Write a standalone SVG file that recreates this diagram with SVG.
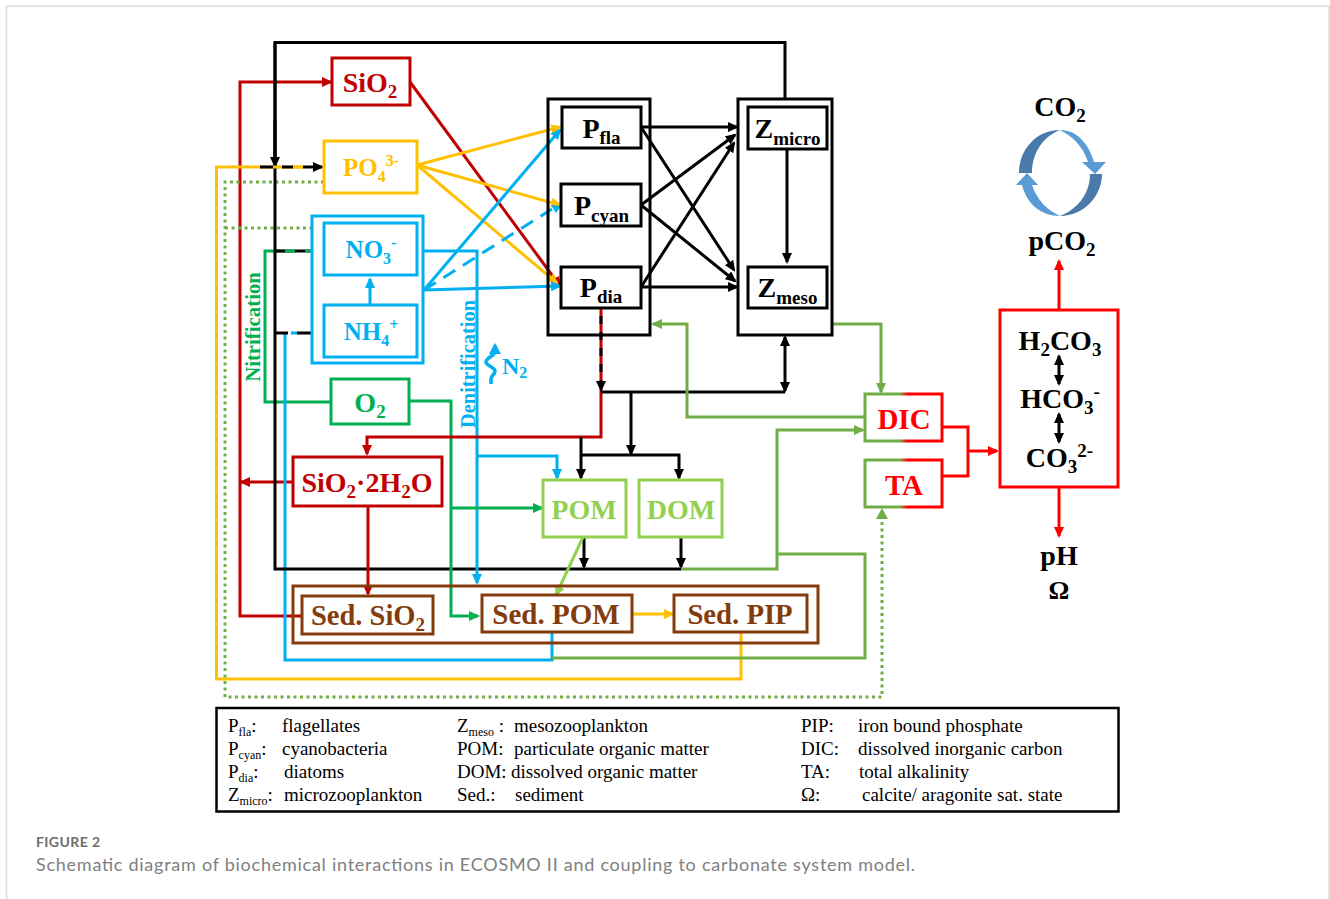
<svg xmlns="http://www.w3.org/2000/svg" width="1330" height="899" viewBox="0 0 1330 899">
<style>
text{font-family:"Liberation Serif","Times New Roman",serif}
.l{font-weight:bold;text-anchor:middle}
.b{fill:#fff;stroke-width:3}
.c{fill:none;stroke-width:3}
.k{stroke:#000}.r{stroke:#c00000}.y{stroke:#ffc000}.u{stroke:#00b0f0}.g{stroke:#00b050}.a{stroke:#70ad47}.lg{stroke:#92d050}.br{stroke:#843c0c}.d{stroke:#ff0000}
.leg{font-size:19px;fill:#000}
</style>
<defs>
<marker id="mk" markerUnits="userSpaceOnUse" markerWidth="12" markerHeight="10" refX="9" refY="5" orient="auto-start-reverse"><path d="M0 0L11 5L0 10Z" fill="#000"/></marker>
<marker id="mr" markerUnits="userSpaceOnUse" markerWidth="12" markerHeight="10" refX="9" refY="5" orient="auto-start-reverse"><path d="M0 0L11 5L0 10Z" fill="#c00000"/></marker>
<marker id="my" markerUnits="userSpaceOnUse" markerWidth="12" markerHeight="10" refX="9" refY="5" orient="auto-start-reverse"><path d="M0 0L11 5L0 10Z" fill="#ffc000"/></marker>
<marker id="mu" markerUnits="userSpaceOnUse" markerWidth="12" markerHeight="10" refX="9" refY="5" orient="auto-start-reverse"><path d="M0 0L11 5L0 10Z" fill="#00b0f0"/></marker>
<marker id="mg" markerUnits="userSpaceOnUse" markerWidth="12" markerHeight="10" refX="9" refY="5" orient="auto-start-reverse"><path d="M0 0L11 5L0 10Z" fill="#00b050"/></marker>
<marker id="ma" markerUnits="userSpaceOnUse" markerWidth="12" markerHeight="10" refX="9" refY="5" orient="auto-start-reverse"><path d="M0 0L11 5L0 10Z" fill="#70ad47"/></marker>
<marker id="ml" markerUnits="userSpaceOnUse" markerWidth="12" markerHeight="10" refX="9" refY="5" orient="auto-start-reverse"><path d="M0 0L11 5L0 10Z" fill="#92d050"/></marker>
<marker id="md" markerUnits="userSpaceOnUse" markerWidth="12" markerHeight="10" refX="9" refY="5" orient="auto-start-reverse"><path d="M0 0L11 5L0 10Z" fill="#ff0000"/></marker>
<linearGradient id="gr" x1="0" x2="1" y1="0" y2="0"><stop offset=".45" stop-color="#70ad47"/><stop offset=".55" stop-color="#ff0000"/></linearGradient>
</defs>
<rect width="1330" height="899" fill="#fff"/>
<path d="M6.500 899V6H1329V899" stroke="#dcdcdc" stroke-width="1.500" fill="none"/>

<g id="connectors">
<path class="c r" d="M302 616H240V82H331" marker-end="url(#mr)"/>
<path class="c r" d="M293 482H241" marker-end="url(#mr)"/>
<path class="c y" d="M303 167H216.500V679H741V632"/>
<path class="a" fill="none" stroke-width="3" stroke-dasharray="3 3.500" d="M324 182H225V697H882V517"/>
<path d="M882 508L876 519H888Z" fill="#70ad47"/>
<path class="a" fill="none" stroke-width="3" stroke-dasharray="3 3.500" d="M225 228H312"/>
<path class="c g" d="M331 402H265V251H285"/>
<path class="c u" d="M285 333V660H552V632"/>
<path class="c k" d="M275 160V42.500H785V98"/>
<path class="c k" d="M275 42.500V569H681"/>
<path class="c k" d="M275 120V166" marker-end="url(#mk)"/>
<path class="c k" d="M260 167H273M282 167H293"/>
<path class="c k" d="M303 167H322" marker-end="url(#mk)"/>
<path class="c y" d="M273 167H280M293 167H303"/>
<path class="c k" d="M275 251H322" marker-end="url(#mk)"/>
<path class="c g" d="M285 251H295M305 251H312"/>
<path class="c k" d="M275 333H288M297 333H322" marker-end="url(#mk)"/>
<path class="c u" d="M291 333H297"/>
<path class="c r" d="M410 82L560 286" marker-end="url(#mr)"/>
<path class="c y" d="M417 165L560 127" marker-end="url(#my)"/>
<path class="c y" d="M417 165L560 205" marker-end="url(#my)"/>
<path class="c y" d="M417 165L557 283" marker-end="url(#my)"/>
<path class="c u" d="M424 290L560 130" marker-end="url(#mu)"/>
<path class="c u" d="M424 290L560 286" marker-end="url(#mu)"/>
<path class="c u" stroke-dasharray="14 9" d="M424 290L552 209"/>
<path d="M551 205L561 206L556 213Z" fill="#00b0f0"/>
<path class="c u" d="M417 251H477V583" marker-end="url(#mu)"/>
<path class="c u" d="M477 456H557V478" marker-end="url(#mu)"/>
<path class="c u" style="stroke-width:3.500" d="M495 345V352C494 356 486 358 486 362C486 366 495 367 495 371C495 375 491 375 491 379V384"/>
<path d="M495 343L489 354H501Z" fill="#00b0f0"/>
<path class="c g" d="M409 401H451V616H478" marker-end="url(#mg)"/>
<path class="c g" d="M451 508H542" marker-end="url(#mg)"/>
<path class="c k" d="M641 127H737" marker-end="url(#mk)"/>
<path class="c k" d="M641 127L734 270" marker-end="url(#mk)"/>
<path class="c k" d="M641 205L735 135" marker-end="url(#mk)"/>
<path class="c k" d="M641 205L735 281" marker-end="url(#mk)"/>
<path class="c k" d="M641 287L734 143" marker-end="url(#mk)"/>
<path class="c k" d="M641 287H737" marker-end="url(#mk)"/>
<path class="c k" d="M787 149V262" marker-end="url(#mk)"/>
<path class="c r" d="M601 308V437H367V454" marker-end="url(#mr)"/>
<path class="c k" stroke-dasharray="8 8" d="M601 316V390" marker-end="url(#mk)"/>
<path class="c k" d="M601 392H785"/>
<path class="c k" d="M785 391V337" marker-start="url(#mk)" marker-end="url(#mk)"/>
<path class="c k" d="M631 392V454" marker-end="url(#mk)"/>
<path class="c k" d="M581 437V478" marker-end="url(#mk)"/>
<path class="c k" d="M581 455H679V478" marker-end="url(#mk)"/>
<path class="c k" d="M584 537V567" marker-end="url(#mk)"/>
<path class="c k" d="M681 537V567" marker-end="url(#mk)"/>
<path class="c r" d="M368 506V594" marker-end="url(#mr)"/>
<path class="c lg" d="M583 537L556 595" marker-end="url(#ml)"/>
<path class="c y" d="M632 614H673" marker-end="url(#my)"/>
<path class="c a" d="M681 569H777V430H863" marker-end="url(#ma)"/>
<path class="c a" d="M777 554H865V658H552"/>
<path class="c a" d="M832 324H881V392" marker-end="url(#ma)"/>
<path class="c a" d="M865 417H687V324H653" marker-end="url(#ma)"/>
<path class="c d" d="M942 427H968V476H942"/>
<path class="c d" d="M968 451H997" marker-end="url(#md)"/>
<path class="c d" d="M1059 310V261" marker-end="url(#md)"/>
<path class="c d" d="M1059 487V536" marker-end="url(#md)"/>
<path class="c k" d="M1059 356V384" marker-start="url(#mk)" marker-end="url(#mk)"/>
<path class="c k" d="M1059 414V442" marker-start="url(#mk)" marker-end="url(#mk)"/>
</g>

<g id="sio2"><rect class="b r" x="332" y="58" width="78" height="47"/><text class="l" x="370" y="92" font-size="28" fill="#c00000">SiO<tspan font-size="19" dy="6">2</tspan></text></g>
<g id="po4"><rect class="b y" x="324" y="141" width="93" height="52"/><text class="l" x="371" y="176" font-size="25" fill="#ffc000">PO<tspan font-size="16" dy="6">4</tspan><tspan font-size="16" dy="-16">3-</tspan></text></g>
<g id="nox"><rect class="b u" x="312" y="216" width="111" height="147"/></g>
<g id="no3"><rect class="b u" x="324" y="223" width="93" height="52"/><text class="l" x="371" y="258" font-size="25" fill="#00b0f0">NO<tspan font-size="16" dy="6">3</tspan><tspan font-size="16" dy="-16">-</tspan></text></g>
<g id="nh4"><rect class="b u" x="324" y="305" width="93" height="52"/><text class="l" x="371" y="340" font-size="25" fill="#00b0f0">NH<tspan font-size="16" dy="6">4</tspan><tspan font-size="16" dy="-16">+</tspan></text></g>
<path class="c u" d="M370 305V279" marker-end="url(#mu)"/>
<g id="o2"><rect class="b g" x="331" y="379" width="78" height="45"/><text class="l" x="370" y="412" font-size="28" fill="#00b050">O<tspan font-size="19" dy="6">2</tspan></text></g>
<g id="sio2h2o"><rect class="b r" x="293" y="457" width="149" height="49"/><text class="l" x="367" y="492" font-size="28" fill="#c00000">SiO<tspan font-size="19" dy="6">2</tspan><tspan dy="-6">·2H</tspan><tspan font-size="19" dy="6">2</tspan><tspan dy="-6">O</tspan></text></g>
<g id="p-group"><rect x="548" y="99" width="102" height="236" fill="none" stroke="#000" stroke-width="3"/></g>
<g id="pfla"><rect class="b k" x="562" y="107" width="79" height="41"/><text class="l" x="601.500" y="138" font-size="28">P<tspan font-size="19" dy="6">fla</tspan></text></g>
<g id="pcyan"><rect class="b k" x="561" y="184" width="80" height="42"/><text class="l" x="601.500" y="215" font-size="28">P<tspan font-size="19" dy="7">cyan</tspan></text></g>
<g id="pdia"><rect class="b k" x="561" y="267" width="80" height="41"/><text class="l" x="601" y="297" font-size="28">P<tspan font-size="19" dy="6">dia</tspan></text></g>
<g id="z-group"><rect x="738" y="99" width="94" height="236" fill="none" stroke="#000" stroke-width="3"/></g>
<g id="zmicro"><rect class="b k" x="748" y="107" width="79" height="42"/><text class="l" x="787.500" y="138" font-size="28">Z<tspan font-size="19" dy="7">micro</tspan></text></g>
<g id="zmeso"><rect class="b k" x="748" y="267" width="79" height="41"/><text class="l" x="787.500" y="297" font-size="28">Z<tspan font-size="19" dy="7">meso</tspan></text></g>
<g id="pom"><rect class="b lg" x="543" y="480" width="83" height="57"/><text class="l" x="584" y="519" font-size="28" fill="#92d050">POM</text></g>
<g id="dom"><rect class="b lg" x="639" y="480" width="83" height="57"/><text class="l" x="681" y="519" font-size="28" fill="#92d050">DOM</text></g>
<g id="sed"><rect x="293" y="586" width="525" height="57" fill="none" stroke="#843c0c" stroke-width="3"/></g>
<g id="sedsio2"><rect class="b br" x="302" y="596" width="131" height="38"/><text class="l" x="368" y="625" font-size="28.500" fill="#843c0c">Sed. SiO<tspan font-size="19" dy="6">2</tspan></text></g>
<g id="sedpom"><rect class="b br" x="482" y="595" width="150" height="37"/><text class="l" x="556" y="624" font-size="29" fill="#843c0c">Sed. POM</text></g>
<g id="sedpip"><rect class="b br" x="674" y="595" width="133" height="37"/><text class="l" x="740" y="624" font-size="28.700" fill="#843c0c">Sed. PIP</text></g>
<g id="dic"><rect class="b" stroke="url(#gr)" x="865" y="394" width="77" height="47"/><text class="l" x="904" y="429" font-size="29" fill="#ff0000">DIC</text></g>
<g id="ta"><rect class="b" stroke="url(#gr)" x="865" y="460" width="77" height="47"/><text class="l" x="904" y="495" font-size="29" fill="#ff0000">TA</text></g>
<g id="carb"><rect x="1000" y="310" width="118" height="177" fill="none" stroke="#ff0000" stroke-width="3"/>
<text class="l" x="1060" y="350" font-size="28">H<tspan font-size="19" dy="6">2</tspan><tspan dy="-6">CO</tspan><tspan font-size="19" dy="6">3</tspan></text>
<text class="l" x="1060" y="408" font-size="28">HCO<tspan font-size="19" dy="6">3</tspan><tspan font-size="19" dy="-16">-</tspan></text>
<text class="l" x="1059.500" y="467" font-size="28">CO<tspan font-size="19" dy="6">3</tspan><tspan font-size="19" dy="-16">2-</tspan></text></g>
<g id="cycle">
<path d="M1060 130C1036 130 1019 150 1019 173H1032C1032 152 1044 136 1060 130Z" fill="#4a7aab"/>
<path d="M1060 130C1078 130 1089 145 1094 162H1106L1095 174L1082 162H1088C1083 146 1072 136 1060 130Z" fill="#5b9bd5"/>
<path d="M1060 216C1084 216 1102 196 1102 174H1090C1090 195 1076 210 1060 216Z" fill="#4a7aab"/>
<path d="M1060 216C1042 216 1027 205 1022 185H1016L1027 173L1038 185H1032C1037 200 1047 210 1060 216Z" fill="#5b9bd5"/>
</g>
<text class="l" x="1060" y="116" font-size="28">CO<tspan font-size="19" dy="6">2</tspan></text>
<text class="l" x="1062" y="250" font-size="28">pCO<tspan font-size="19" dy="6">2</tspan></text>
<text class="l" x="1059" y="565" font-size="28">pH</text>
<text class="l" x="1059" y="599" font-size="26">Ω</text>
<text class="l" x="502" y="374" font-size="24" fill="#00b0f0" style="text-anchor:start">N<tspan font-size="16" dy="4">2</tspan></text>
<text class="l" transform="translate(260 327) rotate(-90)" font-size="20.800" fill="#00b050">Nitrification</text>
<text class="l" transform="translate(475 364) rotate(-90)" font-size="20.400" fill="#00b0f0">Denitrification</text>

<g id="legend"><rect x="216.500" y="708" width="902" height="103.500" fill="#fff" stroke="#000" stroke-width="2.500"/>
<text class="leg" x="228" y="732">P<tspan font-size="12" dy="4">fla</tspan><tspan dy="-4">:</tspan></text><text class="leg" x="282" y="732">flagellates</text>
<text class="leg" x="228" y="755">P<tspan font-size="12" dy="4">cyan</tspan><tspan dy="-4">:</tspan></text><text class="leg" x="282" y="755">cyanobacteria</text>
<text class="leg" x="228" y="778">P<tspan font-size="12" dy="4">dia</tspan><tspan dy="-4">:</tspan></text><text class="leg" x="284" y="778">diatoms</text>
<text class="leg" x="228" y="801">Z<tspan font-size="12" dy="4">micro</tspan><tspan dy="-4">:</tspan></text><text class="leg" x="284" y="801">microzooplankton</text>
<text class="leg" x="457" y="732">Z<tspan font-size="12" dy="4">meso</tspan><tspan dy="-4"> :</tspan></text><text class="leg" x="514" y="732">mesozooplankton</text>
<text class="leg" x="457" y="755">POM:</text><text class="leg" x="514" y="755">particulate organic matter</text>
<text class="leg" x="457" y="778">DOM:</text><text class="leg" x="511" y="778">dissolved organic matter</text>
<text class="leg" x="457" y="801">Sed.:</text><text class="leg" x="515" y="801">sediment</text>
<text class="leg" x="801" y="732">PIP:</text><text class="leg" x="858" y="732">iron bound phosphate</text>
<text class="leg" x="801" y="755">DIC:</text><text class="leg" x="858" y="755">dissolved inorganic carbon</text>
<text class="leg" x="801" y="778">TA:</text><text class="leg" x="859" y="778">total alkalinity</text>
<text class="leg" x="801" y="801">Ω:</text><text class="leg" x="862" y="801">calcite/ aragonite sat. state</text></g>
<text x="36" y="847" font-size="14" font-weight="bold" fill="#6e6e6e" textLength="64" style="font-family:Lato,'Open Sans',sans-serif">FIGURE 2</text>
<text x="36" y="871" font-size="18" fill="#808080" textLength="879" style="font-family:Lato,'Open Sans',sans-serif">Schematic diagram of biochemical interactions in ECOSMO II and coupling to carbonate system model.</text>
</svg>
